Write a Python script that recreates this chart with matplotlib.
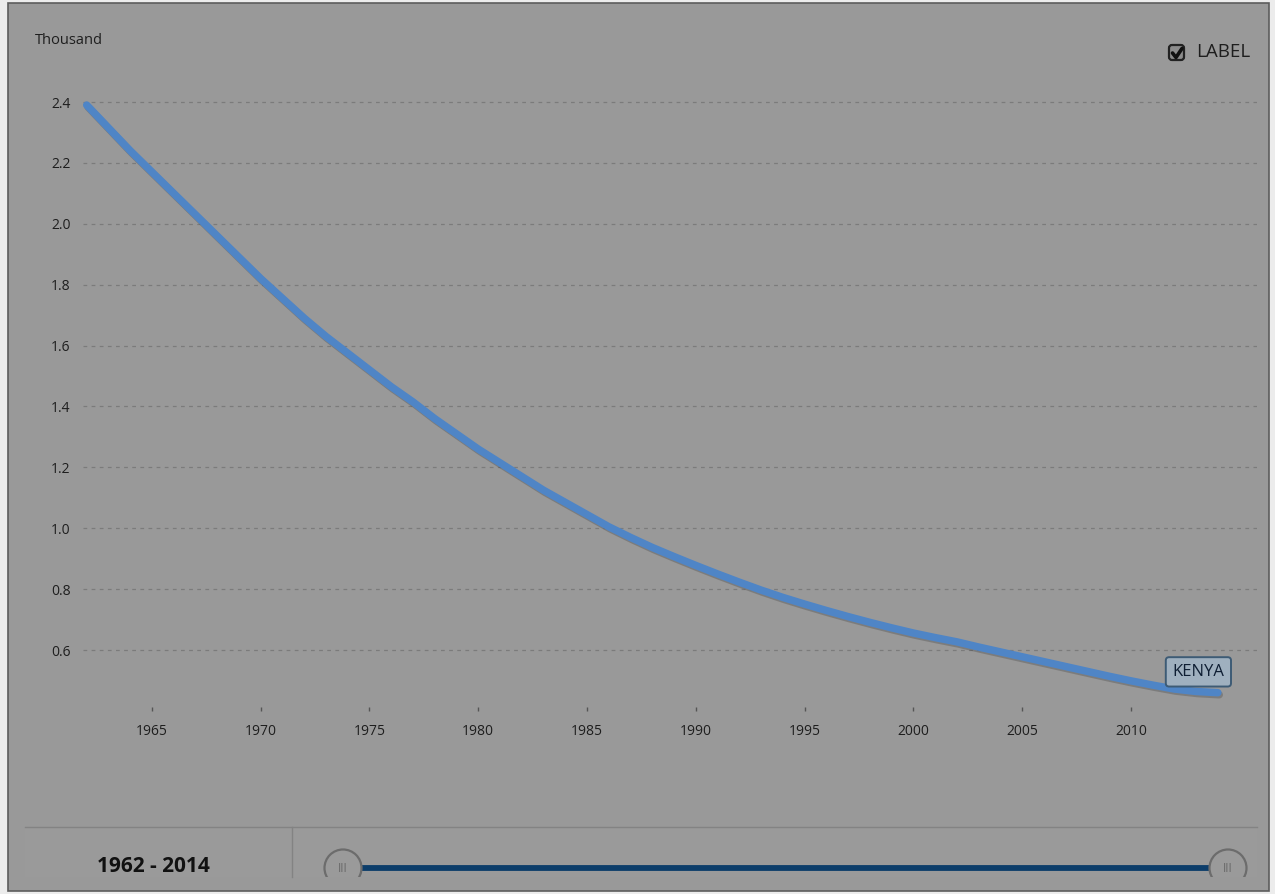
import matplotlib.pyplot as plt
import matplotlib.patches as mpatches
import matplotlib.patheffects as pe

plt.rcParams['font.family'] = ['Open Sans', 'DejaVu Sans']

# data (thousand)
years = list(range(1962, 2015))
values = [
    2.39, 2.315, 2.24, 2.17, 2.10, 2.03, 1.96, 1.89, 1.82, 1.755,
    1.69, 1.63, 1.575, 1.52, 1.465, 1.415, 1.36, 1.31, 1.26, 1.215,
    1.17, 1.125, 1.085, 1.045, 1.005, 0.97, 0.937, 0.907, 0.878, 0.85,
    0.823, 0.797, 0.773, 0.751, 0.73, 0.71, 0.691, 0.673, 0.656, 0.641,
    0.627, 0.61, 0.594, 0.578, 0.562, 0.546, 0.53, 0.514, 0.499, 0.485,
    0.472, 0.464, 0.46,
]
xTicks = [1965, 1970, 1975, 1980, 1985, 1990, 1995, 2000, 2005, 2010]
yTicks = [0.6, 0.8, 1.0, 1.2, 1.4, 1.6, 1.8, 2.0, 2.2, 2.4]
seriesName = 'KENYA'
unitLabel = 'Thousand'
legendLabel = 'LABEL'
rangeLabel = f'{years[0]} - {years[-1]}'

W, H = 1275, 894
BG = '#999999'
TEXT = '#1e1e1e'

fig = plt.figure(figsize=(W / 100, H / 100), dpi=100)
fig.patch.set_facecolor('#ececec')

# background / frame in pixel coordinates
bg = fig.add_axes([0, 0, 1, 1], zorder=0)
bg.set_xlim(0, W)
bg.set_ylim(H, 0)
bg.axis('off')
bg.add_patch(mpatches.Rectangle((7.5, 3), 1261, 888, fc=BG, ec='#5c5c5c', lw=1.2))

# bottom range panel
panel = mpatches.Rectangle((25, 827), 1232, 50, fc='#9a9a9a', ec='none')
bg.add_patch(panel)
bg.plot([25, 1257], [827, 827], color='#838383', lw=1)
bg.plot([292, 292], [827, 877], color='#838383', lw=1)
bg.text(153, 866, rangeLabel, ha='center', va='center', fontsize=15,
        fontweight='bold', color='#111111')

bg.plot([362, 1209], [868, 868], color='#0c3d6a', lw=4.2, solid_capstyle='butt', zorder=2)
for cx in (343, 1228):
    c = mpatches.Circle((cx, 868), 18.5, fc='#9a9a9a', ec='#6c6c6c', lw=1.6, zorder=3)
    bg.add_patch(c)
    c.set_clip_path(panel)
    bg.text(cx, 868, 'III', ha='center', va='center', fontsize=8.5, color='#6a6a6a', zorder=4)

# checkbox legend
bg.add_patch(mpatches.FancyBboxPatch((1169, 45), 15, 15,
                                     boxstyle='round,pad=0,rounding_size=3',
                                     fc='#8c8c8c', ec='#222222', lw=1.6))
bg.plot([1172.5, 1176, 1182], [53, 57.5, 48.5], color='#111111', lw=2.6,
        solid_capstyle='round', solid_joinstyle='round')
bg.text(1196, 52, legendLabel, ha='left', va='center', fontsize=13.5, color=TEXT)
bg.text(35, 41, unitLabel, ha='left', va='center', fontsize=10.5, color=TEXT)

# main chart
ax = fig.add_axes([83 / W, 1 - 707 / H, (1257 - 83) / W, (707 - 95) / H], zorder=1)
ax.patch.set_alpha(0)
ax.plot(years, values, color='#4f85c6', lw=5.4, solid_capstyle='round',
        path_effects=[pe.SimpleLineShadow(offset=(1, -1.5), shadow_color='#3a3a3a', alpha=0.3),
                      pe.Normal()])
ax.set_xlim(1961.83, 2015.8)
ax.set_ylim(0.413, 2.423)
ax.set_xticks(xTicks)
ax.set_yticks(yTicks)
ax.set_yticklabels([f'{v:.1f}' for v in yTicks])
ax.grid(axis='y', linestyle=(0, (3, 3.5)), color='#7b7b7b', lw=0.9)
ax.grid(axis='x', visible=False)
for s in ax.spines.values():
    s.set_visible(False)
ax.tick_params(axis='y', length=0, pad=9, labelsize=10, labelcolor=TEXT)
ax.tick_params(axis='x', length=3, width=1, color='#555555', pad=9,
               labelsize=10, labelcolor=TEXT, direction='out')

ax.annotate(seriesName, xy=(years[-1], values[-1]), xytext=(-14, 15),
            textcoords='offset points', ha='center', va='center',
            fontsize=12, color='#0e1e33',
            bbox=dict(boxstyle='round,pad=0.4,rounding_size=0.2',
                      fc='#9fb0bf', ec='#3d5b75', lw=1.4))

fig.savefig('out.png', dpi=100, facecolor=fig.get_facecolor())
